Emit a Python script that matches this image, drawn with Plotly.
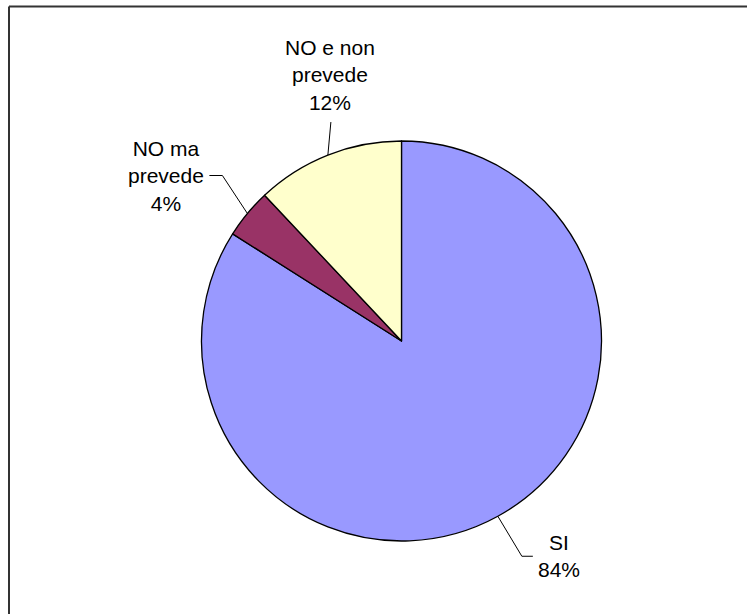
import math
import plotly.graph_objects as go

# Survey answers and their shares (%)
labels = ["SI", "NO ma prevede", "NO e non prevede"]
label_text = ["SI", "NO ma<br>prevede", "NO e non<br>prevede"]
values = [84, 4, 12]
colors = ["#9999FF", "#993366", "#FFFFCC"]

W, H = 747, 614
CX, CY, R = 401.5, 341.0, 200.0  # pie centre and radius in pixels


def px(x):
    return x / W


def py(y):
    return 1 - y / H


fig = go.Figure(
    go.Pie(
        labels=labels,
        values=values,
        sort=False,
        direction="clockwise",
        rotation=0,
        marker=dict(colors=colors, line=dict(color="black", width=1.3)),
        textinfo="none",
        hoverinfo="label+percent",
        showlegend=False,
        domain=dict(x=[px(CX - R), px(CX + R)], y=[py(CY + R), py(CY - R)]),
    )
)

# Leader line bends / label placement relative to each slice's edge point
leader = {
    "SI": dict(bend=(24, 40), end=(35, 40), text=(61, 40)),
    "NO ma prevede": dict(bend=(-25, -38), end=(-38, -38), text=(-81, -38)),
    "NO e non prevede": dict(bend=(3, -33), end=(3, -33), text=(2, -80)),
}

total = sum(values)
cum = 0.0
shapes = []
annotations = []
for lab, txt, v in zip(labels, label_text, values):
    mid = (cum + v / 2) / total * 2 * math.pi
    cum += v
    ex = CX + R * math.sin(mid)
    ey = CY - R * math.cos(mid)
    d = leader[lab]
    bx, by = ex + d["bend"][0], ey + d["bend"][1]
    fx, fy = ex + d["end"][0], ey + d["end"][1]
    tx, ty = ex + d["text"][0], ey + d["text"][1]
    path = f"M {px(ex)} {py(ey)} L {px(bx)} {py(by)} L {px(fx)} {py(fy)}"
    shapes.append(dict(type="path", xref="paper", yref="paper", path=path,
                       line=dict(color="black", width=1)))
    pct = round(v / total * 100)
    annotations.append(dict(
        x=px(tx), y=py(ty), xref="paper", yref="paper",
        text=f"{txt}<br>{pct}%", showarrow=False,
        xanchor="center", yanchor="middle", align="center",
        font=dict(family="Liberation Sans, Arial, sans-serif", size=21, color="black"),
    ))

# Chart area border (top and left edges)
shapes.append(dict(type="line", xref="paper", yref="paper",
                   x0=px(9), y0=py(6.5), x1=1.05, y1=py(6.5),
                   line=dict(color="#333333", width=2)))
shapes.append(dict(type="line", xref="paper", yref="paper",
                   x0=px(9), y0=py(6.5), x1=px(9), y1=-0.05,
                   line=dict(color="#333333", width=2)))

fig.update_layout(
    width=W, height=H,
    margin=dict(l=0, r=0, t=0, b=0),
    paper_bgcolor="white", plot_bgcolor="white",
    shapes=shapes, annotations=annotations,
)

fig.write_html("out.html")
